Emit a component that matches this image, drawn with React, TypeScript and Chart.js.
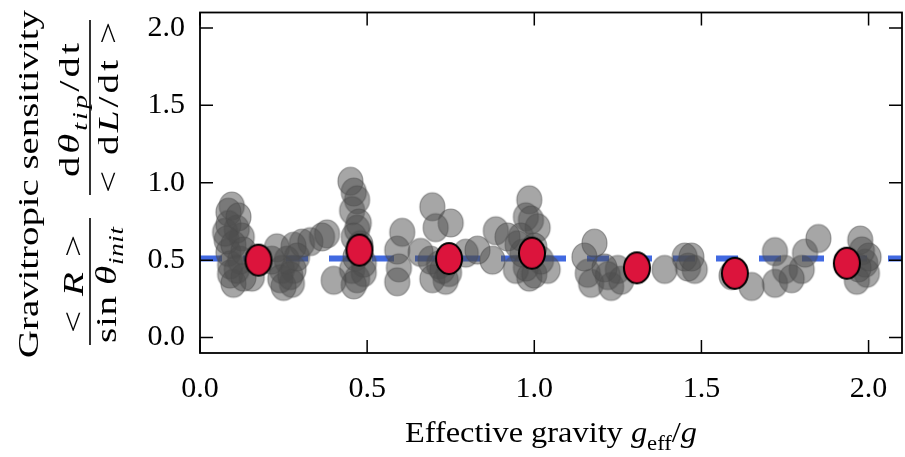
import React, { useEffect, useRef } from 'react';
import { Chart, registerables } from 'chart.js';

Chart.register(...registerables);

// ---------- data ----------
const xRange = [0, 2.1];
const yRange = [-0.1, 2.1];
const tickStep = 0.5;
const meanLevel = 0.51;

const greyX = [
  0.095, 0.085, 0.085, 0.08, 0.125, 0.085, 0.09, 0.1, 0.13, 0.155, 0.11, 0.1, 0.12, 0.09, 0.13, 0.11, 0.075, 0.115,
  0.23, 0.245, 0.25, 0.28, 0.28, 0.275, 0.305, 0.33, 0.365, 0.38, 0.215, 0.26, 0.29, 0.24, 0.27, 0.4,
  0.45, 0.46, 0.47, 0.455, 0.475, 0.46, 0.465, 0.455, 0.46, 0.49, 0.48, 0.47, 0.49, 0.47,
  0.605, 0.59, 0.595, 0.59, 0.66, 0.695, 0.705, 0.75, 0.69, 0.695, 0.735, 0.725, 0.795, 0.83, 0.875, 0.885, 0.92, 0.715, 0.745,
  0.985, 0.975, 0.945, 0.985, 0.965, 0.99, 1.01, 1.0, 0.975, 1.0, 1.04, 0.95, 1.02, 0.96,
  1.18, 1.15, 1.16, 1.17, 1.21, 1.23, 1.25, 1.26, 1.22, 1.39, 1.45, 1.46, 1.47, 1.48,
  1.59, 1.65, 1.72, 1.72, 1.75, 1.8, 1.81, 1.85, 1.77,
  1.975, 1.99, 1.995, 1.965, 2.0, 1.98, 1.97,
];
const greyY = [
  0.85, 0.81, 0.73, 0.63, 0.65, 0.55, 0.41, 0.35, 0.39, 0.39, 0.7, 0.6, 0.5, 0.47, 0.56, 0.44, 0.68, 0.78,
  0.58, 0.44, 0.33, 0.59, 0.44, 0.35, 0.61, 0.62, 0.65, 0.67, 0.5, 0.5, 0.52, 0.38, 0.4, 0.37,
  1.01, 0.94, 0.89, 0.82, 0.74, 0.65, 0.52, 0.44, 0.34, 0.42, 0.6, 0.7, 0.48, 0.38,
  0.68, 0.565, 0.45, 0.36, 0.55, 0.845, 0.71, 0.74, 0.5, 0.38, 0.37, 0.44, 0.545, 0.565, 0.5, 0.69, 0.65, 0.47, 0.42,
  0.89, 0.78, 0.44, 0.39, 0.545, 0.76, 0.71, 0.585, 0.455, 0.41, 0.44, 0.6, 0.5, 0.65,
  0.61, 0.52, 0.415, 0.35, 0.45, 0.33, 0.44, 0.37, 0.4, 0.44, 0.52, 0.455, 0.52, 0.44,
  0.4, 0.33, 0.555, 0.35, 0.44, 0.44, 0.545, 0.64, 0.38,
  0.63, 0.48, 0.415, 0.37, 0.52, 0.56, 0.45,
];
const meanX = [0.175, 0.477, 0.745, 0.993, 1.307, 1.6, 1.935];
const meanY = [0.5, 0.565, 0.51, 0.545, 0.45, 0.415, 0.48];

// ---------- text ----------
type Seg = { t: string; it?: boolean; sub?: boolean };
const yTitleLine: Seg[] = [{ t: 'Gravitropic sensitivity' }];
const frac1Num: Seg[] = [{ t: '< ' }, { t: 'R', it: true }, { t: ' >' }];
const frac1Den: Seg[] = [{ t: 'sin ' }, { t: 'θ', it: true }, { t: 'init', it: true, sub: true }];
const frac2Num: Seg[] = [{ t: 'd' }, { t: 'θ', it: true }, { t: 'tip', it: true, sub: true }, { t: '/dt' }];
const frac2Den: Seg[] = [{ t: '< d' }, { t: 'L', it: true }, { t: '/dt >' }];
const xTitle: Seg[] = [
  { t: 'Effective gravity ' },
  { t: 'g', it: true },
  { t: 'eff', sub: true },
  { t: '/' },
  { t: 'g', it: true },
];

const FAM = '"Liberation Serif", "Times New Roman", serif';

function segFont(s: Seg, size: number) {
  return `${s.it ? 'italic ' : ''}${s.sub ? Math.round(size * 0.7) : size}px ${FAM}`;
}
function richWidth(ctx: CanvasRenderingContext2D, segs: Seg[], size: number) {
  let w = 0;
  for (const s of segs) {
    ctx.font = segFont(s, size);
    w += ctx.measureText(s.t).width;
  }
  return w;
}
// draws text centred at (cx, base); if target is given, fits its length by a
// horizontal stretch plus a little extra letter spacing
function drawRich(ctx: CanvasRenderingContext2D, segs: Seg[], size: number, cx: number, base: number, target?: number) {
  const w = richWidth(ctx, segs, size);
  let k = 1;
  let extra = 0;
  const nChars = segs.reduce((n, s) => n + s.t.length, 0);
  if (target) {
    k = Math.min(target / w, 1.35);
    extra = Math.max(0, (target / k - w) / Math.max(1, nChars - 1));
  }
  const total = w + extra * (nChars - 1);
  ctx.save();
  ctx.translate(cx, base);
  ctx.scale(k, 1);
  ctx.textAlign = 'left';
  ctx.textBaseline = 'alphabetic';
  let x = -total / 2;
  for (const s of segs) {
    ctx.font = segFont(s, size);
    const dy = s.sub ? size * 0.25 : 0;
    if (extra === 0) {
      ctx.fillText(s.t, x, dy);
      x += ctx.measureText(s.t).width;
    } else {
      for (const ch of s.t) {
        ctx.fillText(ch, x, dy);
        x += ctx.measureText(ch).width + extra;
      }
    }
  }
  ctx.restore();
}
function drawRichRot(ctx: CanvasRenderingContext2D, segs: Seg[], size: number, baseX: number, centerY: number, target?: number) {
  ctx.save();
  ctx.translate(baseX, centerY);
  ctx.rotate(-Math.PI / 2);
  drawRich(ctx, segs, size, 0, 0, target);
  ctx.restore();
}

function makeEllipse(w: number, h: number, fill: string, stroke: string, lw: number) {
  const c = document.createElement('canvas');
  c.width = w + 4;
  c.height = h + 4;
  const g = c.getContext('2d')!;
  g.beginPath();
  g.ellipse(c.width / 2, c.height / 2, w / 2, h / 2, 0, 0, Math.PI * 2);
  g.fillStyle = fill;
  g.fill();
  g.lineWidth = lw;
  g.strokeStyle = stroke;
  g.stroke();
  return c;
}

const TICK_LEN = 13;

const decorPlugin = {
  id: 'decor',
  afterDatasetsDraw(chart: any) {
    const { ctx, chartArea: a, scales } = chart;
    const xs = scales.x;
    const ys = scales.y;
    ctx.save();
    ctx.strokeStyle = '#000';
    ctx.lineWidth = 1.8;
    ctx.strokeRect(a.left, a.top, a.right - a.left, a.bottom - a.top);
    ctx.lineWidth = 1.5;
    ctx.beginPath();
    for (const t of xs.ticks) {
      const px = xs.getPixelForValue(t.value);
      ctx.moveTo(px, a.bottom);
      ctx.lineTo(px, a.bottom - TICK_LEN);
      ctx.moveTo(px, a.top);
      ctx.lineTo(px, a.top + TICK_LEN);
    }
    for (const t of ys.ticks) {
      const py = ys.getPixelForValue(t.value);
      ctx.moveTo(a.left, py);
      ctx.lineTo(a.left + TICK_LEN, py);
      ctx.moveTo(a.right, py);
      ctx.lineTo(a.right - TICK_LEN, py);
    }
    ctx.stroke();
    ctx.restore();
  },
  afterDraw(chart: any) {
    const { ctx, chartArea: a } = chart;
    ctx.save();
    ctx.fillStyle = '#000';
    // y title
    drawRichRot(ctx, yTitleLine, 29, 38, 184, 348);
    drawRichRot(ctx, frac2Num, 30, 79, 110, 134);
    drawRichRot(ctx, frac2Den, 29, 118, 107.5, 171);
    drawRichRot(ctx, frac1Num, 29, 83, 284, 98);
    drawRichRot(ctx, frac1Den, 29, 116, 285, 116);
    ctx.strokeStyle = '#000';
    ctx.lineWidth = 1.6;
    ctx.beginPath();
    ctx.moveTo(90, 20);
    ctx.lineTo(90, 195);
    ctx.moveTo(90, 218);
    ctx.lineTo(90, 345);
    ctx.stroke();
    // x title
    drawRich(ctx, xTitle, 30, (a.left + a.right) / 2, 442, 292);
    ctx.restore();
  },
};

export default function App() {
  const ref = useRef<HTMLCanvasElement>(null);
  useEffect(() => {
    if (!ref.current) return;
    const greyImg = makeEllipse(25, 28, 'rgba(77,77,77,0.5)', 'rgba(77,77,77,0.5)', 1.2);
    const redImg = makeEllipse(26, 31, '#DC143C', '#000', 2);
    const chart = new Chart(ref.current, {
      type: 'scatter',
      data: {
        datasets: [
          {
            type: 'line',
            data: [
              { x: xRange[0], y: meanLevel },
              { x: xRange[1], y: meanLevel },
            ],
            borderColor: '#4169E1',
            borderWidth: 6,
            borderDash: [22, 21],
            pointRadius: 0,
            order: 2,
          } as any,
          {
            data: greyX.map((x, i) => ({ x, y: greyY[i] })),
            pointStyle: greyImg as any,
            pointRadius: 12,
            order: 1,
          },
          {
            data: meanX.map((x, i) => ({ x, y: meanY[i] })),
            pointStyle: redImg as any,
            pointRadius: 13,
            order: 0,
          },
        ],
      },
      plugins: [decorPlugin],
      options: {
        animation: false,
        responsive: false,
        devicePixelRatio: 1,
        layout: { autoPadding: false, padding: { top: 12.5, right: 3, left: 0, bottom: 0 } },
        plugins: { legend: { display: false }, tooltip: { enabled: false } },
        scales: {
          x: {
            type: 'linear',
            min: xRange[0],
            max: xRange[1],
            grid: { display: false, drawTicks: false },
            border: { display: false },
            ticks: {
              stepSize: tickStep,
              includeBounds: false,
              padding: 18,
              color: '#000',
              font: { family: FAM, size: 30 },
              callback: (v: any) => Number(v).toFixed(1),
            },
            afterFit: (s: any) => {
              s.height = 104;
              s.paddingLeft = 0;
              s.paddingRight = 0;
            },
          },
          y: {
            type: 'linear',
            min: yRange[0],
            max: yRange[1],
            grid: { display: false, drawTicks: false },
            border: { display: false },
            ticks: {
              stepSize: tickStep,
              includeBounds: false,
              padding: 15,
              color: '#000',
              font: { family: FAM, size: 30 },
              callback: (v: any) => Number(v).toFixed(1),
            },
            afterFit: (s: any) => {
              s.width = 200;
              s.paddingTop = 0;
              s.paddingBottom = 0;
            },
          },
        },
      },
    });
    return () => chart.destroy();
  }, []);
  return (
    <div style={{ position: 'absolute', left: 0, top: 0, width: 905, height: 457, background: '#fff' }}>
      <canvas ref={ref} width={905} height={457} />
    </div>
  );
}
